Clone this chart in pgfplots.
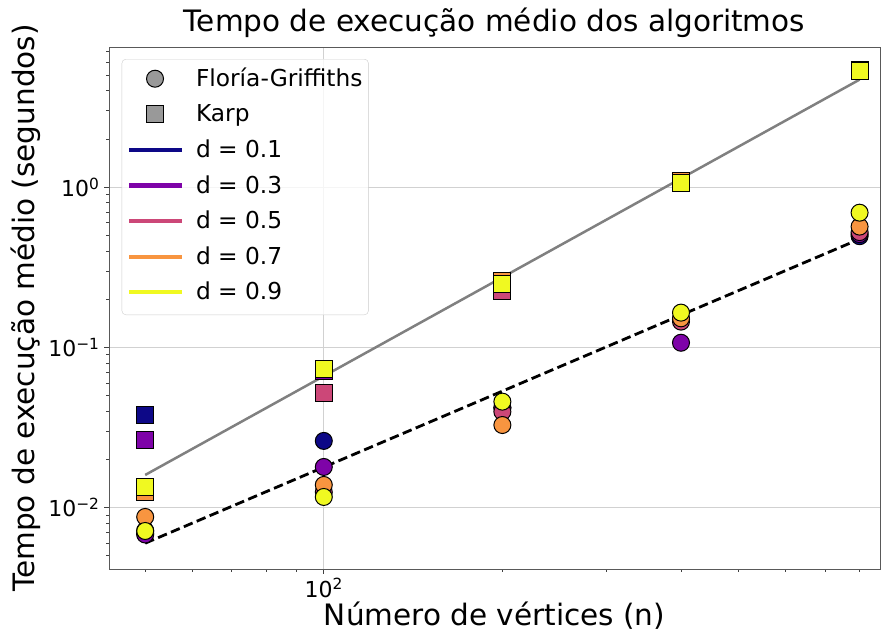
\documentclass[border=0pt]{standalone}
\usepackage{fontspec}
\setmainfont{DejaVu Sans}
\usepackage{pgfplots}
\pgfplotsset{compat=1.18}
\definecolor{ca}{HTML}{0D0887}
\definecolor{cb}{HTML}{7E03A8}
\definecolor{cc}{HTML}{CC4778}
\definecolor{cd}{HTML}{F89540}
\definecolor{ce}{HTML}{F0F921}
\begin{document}
\begin{tikzpicture}
\begin{loglogaxis}[
  scale only axis, width=771pt, height=522pt,
  xmin=43.45, xmax=866, ymin=0.00414, ymax=7.51,
  axis line style={black!65, line width=0.9pt},
  xtick={100}, xticklabels={10\textsuperscript{2}},
  ytick={0.01,0.1,1},
  yticklabels={10\textsuperscript{−2},10\textsuperscript{−1},10\textsuperscript{0}},
  minor xtick={50,60,70,80,90,200,300,400,500,600,700,800},
  minor ytick={0.005,0.006,0.007,0.008,0.009,0.02,0.03,0.04,0.05,0.06,0.07,0.08,0.09,0.2,0.3,0.4,0.5,0.6,0.7,0.8,0.9,2,3,4,5,6,7},
  grid=major, major grid style={black!18, line width=0.9pt},
  tick align=outside, tick pos=left,
  major tick length=5pt, minor tick length=3pt,
  every tick/.style={black!75, line width=0.9pt},
  tick label style={font=\fontsize{22}{26}\selectfont},
  yticklabel style={xshift=-1pt},
  xticklabel style={yshift=-1pt},
  title={Tempo de execução médio dos algoritmos},
  title style={at={(axis description cs:0.5,1.019)}, anchor=base, font=\fontsize{29.5}{34}\selectfont},
  xlabel={Número de vértices (n)},
  every axis x label/.style={at={(axis description cs:0.5,-0.108)}, anchor=base, font=\fontsize{29.5}{34}\selectfont},
  ylabel={Tempo de execução médio (segundos)},
  every axis y label/.style={at={(axis description cs:-0.096,0.5)}, rotate=90, anchor=base, font=\fontsize{29.5}{34}\selectfont},
  legend cell align=left,
  legend style={at={(0.0165,0.977)}, anchor=north west, draw=black!20, rounded corners=4pt,
    fill=white, fill opacity=0.8, text opacity=1, draw opacity=1,
    font=\fontsize{23.3}{27}\selectfont, row sep=11.6pt, inner xsep=5pt, inner ysep=9pt,
    nodes={inner sep=1pt, text height=17pt, text depth=5pt}},
]
% legend entries
\addlegendimage{legend image code/.code={\path[draw=none,fill=none] (0pt,-10pt) rectangle (66pt,10pt);\draw[fill=gray, draw=black, line width=1pt, rounded corners=0pt] (26pt,1.5pt) circle (8.5pt);}}
\addlegendentry{Floría-Griffiths}
\addlegendimage{legend image code/.code={\path[draw=none,fill=none] (0pt,-10pt) rectangle (66pt,10pt);\draw[fill=gray, draw=black, line width=1pt, rounded corners=0pt] (17.5pt,-7pt) rectangle (34.5pt,10pt);}}
\addlegendentry{Karp}
\addlegendimage{legend image code/.code={\path[draw=none,fill=none] (0pt,-10pt) rectangle (66pt,10pt);\draw[ca, line width=4.2pt] (0pt,1.5pt) -- (53pt,1.5pt);}}
\addlegendentry{d = 0.1}
\addlegendimage{legend image code/.code={\path[draw=none,fill=none] (0pt,-10pt) rectangle (66pt,10pt);\draw[cb, line width=4.2pt] (0pt,1.5pt) -- (53pt,1.5pt);}}
\addlegendentry{d = 0.3}
\addlegendimage{legend image code/.code={\path[draw=none,fill=none] (0pt,-10pt) rectangle (66pt,10pt);\draw[cc, line width=4.2pt] (0pt,1.5pt) -- (53pt,1.5pt);}}
\addlegendentry{d = 0.5}
\addlegendimage{legend image code/.code={\path[draw=none,fill=none] (0pt,-10pt) rectangle (66pt,10pt);\draw[cd, line width=4.2pt] (0pt,1.5pt) -- (53pt,1.5pt);}}
\addlegendentry{d = 0.7}
\addlegendimage{legend image code/.code={\path[draw=none,fill=none] (0pt,-10pt) rectangle (66pt,10pt);\draw[ce, line width=4.2pt] (0pt,1.5pt) -- (53pt,1.5pt);}}
\addlegendentry{d = 0.9}
% d = 0.1
\addplot[forget plot, only marks, mark=*, mark size=8.5pt, mark options={fill=ca, draw=black, line width=1pt}]
  coordinates {(50,0.0069) (100,0.0261) (200,0.042) (400,0.150) (800,0.495)};
\addplot[forget plot, only marks, mark=square*, mark size=8.5pt, mark options={fill=ca, draw=black, line width=1pt}]
  coordinates {(50,0.0379) (100,0.072) (200,0.24) (400,1.07) (800,5.3)};
% d = 0.3
\addplot[forget plot, only marks, mark=*, mark size=8.5pt, mark options={fill=cb, draw=black, line width=1pt}]
  coordinates {(50,0.0068) (100,0.01795) (200,0.042) (400,0.107) (800,0.51)};
\addplot[forget plot, only marks, mark=square*, mark size=8.5pt, mark options={fill=cb, draw=black, line width=1pt}]
  coordinates {(50,0.0264) (100,0.071) (200,0.24) (400,1.07) (800,5.3)};
% d = 0.5
\addplot[forget plot, only marks, mark=*, mark size=8.5pt, mark options={fill=cc, draw=black, line width=1pt}]
  coordinates {(50,0.0072) (100,0.0125) (200,0.0397) (400,0.145) (800,0.525)};
\addplot[forget plot, only marks, mark=square*, mark size=8.5pt, mark options={fill=cc, draw=black, line width=1pt}]
  coordinates {(50,0.0128) (100,0.052) (200,0.2243) (400,1.07) (800,5.3)};
% d = 0.7
\addplot[forget plot, only marks, mark=*, mark size=8.5pt, mark options={fill=cd, draw=black, line width=1pt}]
  coordinates {(50,0.00875) (100,0.01386) (200,0.0328) (400,0.152) (800,0.568)};
\addplot[forget plot, only marks, mark=square*, mark size=8.5pt, mark options={fill=cd, draw=black, line width=1pt}]
  coordinates {(50,0.01253) (100,0.073) (200,0.259) (400,1.095) (800,5.36)};
% d = 0.9
\addplot[forget plot, only marks, mark=*, mark size=8.5pt, mark options={fill=ce, draw=black, line width=1pt}]
  coordinates {(50,0.00715) (100,0.01166) (200,0.0459) (400,0.165) (800,0.694)};
\addplot[forget plot, only marks, mark=square*, mark size=8.5pt, mark options={fill=ce, draw=black, line width=1pt}]
  coordinates {(50,0.01345) (100,0.0734) (200,0.248) (400,1.059) (800,5.34)};
% fitted lines
\addplot[forget plot, no marks, color=gray, line width=2.5pt] coordinates {(50,0.016) (800,4.7)};
\addplot[forget plot, no marks, color=black, line width=2.8pt, dash pattern=on 9.5pt off 4.5pt] coordinates {(50,0.0060) (800,0.475)};
\end{loglogaxis}
\pgfresetboundingbox
\path ([xshift=-109pt,yshift=-64pt]current axis.south west) rectangle ([xshift=1pt,yshift=47pt]current axis.north east);
\end{tikzpicture}
\end{document}
